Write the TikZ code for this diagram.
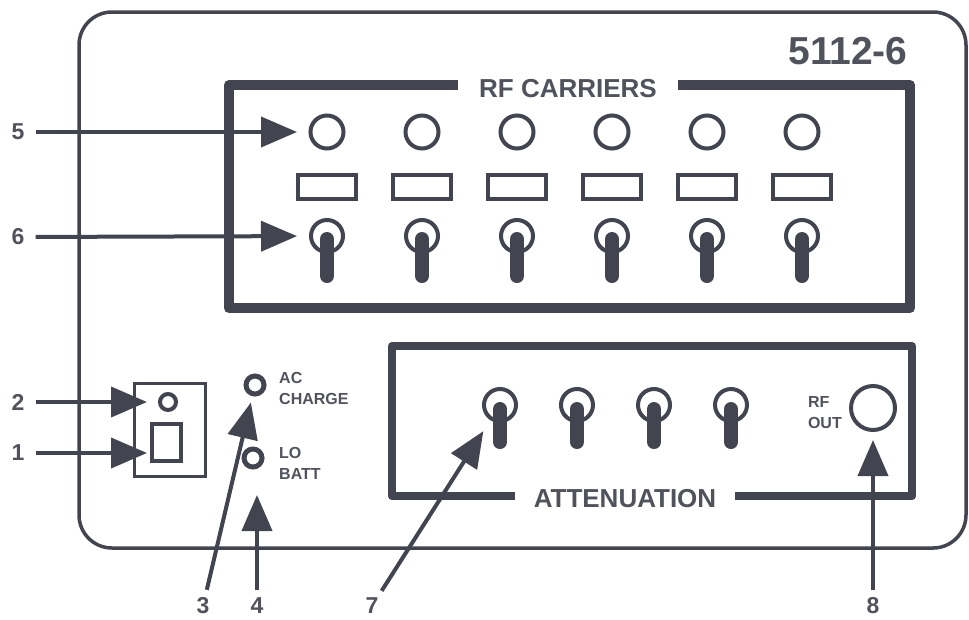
\documentclass[tikz,border=0pt]{standalone}
\usepackage{fontspec}
\setmainfont{Liberation Sans}
\usetikzlibrary{positioning, arrows.meta}
\definecolor{ink}{RGB}{66,68,80}
\definecolor{type}{RGB}{80,82,92}
\tikzset{
    callout/.style={draw=ink, line width=4pt, -{Triangle[length=36pt,width=30pt]}},
    lamp/.style={circle, draw=ink, line width=4pt, minimum size=33pt, inner sep=0pt, outer sep=0pt},
    ring/.style={circle, draw=ink, line width=4pt, minimum size=32pt, inner sep=0pt, outer sep=0pt},
    lever/.style={draw=ink, line width=14pt, line cap=round},
    window/.style={rectangle, draw=ink, line width=4pt, minimum width=58pt, minimum height=24pt, inner sep=0pt, outer sep=0pt},
    led/.style={circle, draw=ink, line width=5pt, minimum size=18pt, inner sep=0pt, outer sep=0pt},
    tag/.style={text=type, font=\bfseries\fontsize{23}{23}\selectfont, inner sep=2pt},
    caption/.style={fill=white, text=type, font=\bfseries\fontsize{26}{26}\selectfont, minimum width=220pt, minimum height=20pt, inner sep=0pt},
    small/.style={text=type, font=\bfseries\fontsize{16}{21}\selectfont, align=left, inner sep=0pt}
}
\begin{document}
\begin{tikzpicture}[x=1pt, y=-1pt]
\useasboundingbox (0,0) rectangle (969,619);

% housing
\draw[ink, line width=3.5pt, rounded corners=33pt] (79,12) rectangle (966,548);
\node[text=type, font=\bfseries\fontsize{39}{39}\selectfont, inner sep=0pt] (model) at (848,51) {5112-6};

% carrier panel
\draw[ink, line width=10pt, line join=round] (229,85) rectangle (910,308);
\node[caption] (rfcap) at (568,89) {RF CARRIERS};
\foreach \i in {1,...,6}{
    \node[lamp] (lamp\i) at ({232+95*\i},132) {};
    \node[window] (win\i) at ({232+95*\i},187) {};
    \node[ring] (sw\i) at ({232+95*\i},236) {};
    \draw[lever] ([yshift=-3pt]sw\i.center) -- ++(0,37);
}

% attenuation panel
\draw[ink, line width=8pt, line join=round] (392,346) rectangle (912,496);
\node[caption] (attcap) at (625,499) {ATTENUATION};
\foreach \i in {1,...,4}{
    \node[ring] (att\i) at ({423+77*\i},405) {};
    \draw[lever] ([yshift=-4pt]att\i.center) -- ++(0,33);
}
\node[circle, draw=ink, line width=4pt, minimum size=44pt, inner sep=0pt, outer sep=0pt] (rfout) at (873,408) {};
\node[small, left=9pt of rfout, yshift=-5pt] (rfoutlbl) {RF\\OUT};

% power switch and indicators
\node[draw=ink, line width=3pt, minimum width=71pt, minimum height=93pt, inner sep=0pt, outer sep=0pt] (pwrbox) at (170,430) {};
\node[circle, draw=ink, line width=4pt, minimum size=16pt, inner sep=0pt, outer sep=0pt] (pwrled) at (168,402) {};
\node[draw=ink, line width=4pt, minimum width=29pt, minimum height=37pt, inner sep=0pt, outer sep=0pt] (rocker) at (166.5,442.5) {};
\node[led] (acled) at (255,385) {};
\node[led] (loled) at (253,458) {};
\node[small, right=15pt of acled, yshift=-3pt] (aclbl) {AC\\CHARGE};
\node[small, right=17pt of loled, yshift=-5pt] (lolbl) {LO\\BATT};

% callouts
\node[tag] (n5) at (18,132) {5};
\node[tag] (n6) at (18,237) {6};
\node[tag] (n2) at (18,402) {2};
\node[tag] (n1) at (18,453) {1};
\node[tag] (n3) at (203,606) {3};
\node[tag] (n4) at (257,606) {4};
\node[tag] (n7) at (372,606) {7};
\node[tag] (n8) at (873,606) {8};

\draw[callout, shorten <=9pt, shorten >=13.5pt] (n5) -- (lamp1);
\draw[callout, shorten <=9pt, shorten >=14pt] (n6) -- (sw1);
\draw[callout, shorten <=9pt, shorten >=13pt] (n2) -- (pwrled);
\draw[callout, shorten <=9pt, shorten >=5pt] (n1) -- (n1 -| rocker.west);
\draw[callout, shorten <=6pt, shorten >=9pt] (n3) -- (acled);
\draw[callout, shorten <=6pt, shorten >=28pt] (n4) -- (n4 |- loled.south);
\draw[callout, shorten <=6pt, shorten >=15pt] (n7) -- (att1);
\draw[callout, shorten <=6pt, shorten >=10pt] (n8) -- (rfout);
\end{tikzpicture}
\end{document}
